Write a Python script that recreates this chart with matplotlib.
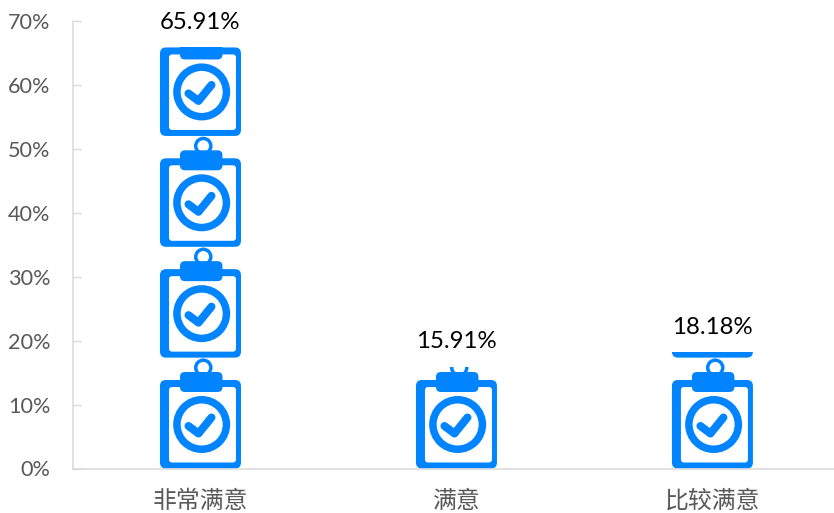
#!/usr/bin/env python3
import matplotlib
matplotlib.use('Agg')
import matplotlib.pyplot as plt
from matplotlib.patches import Circle, FancyBboxPatch, Rectangle
from matplotlib.transforms import Affine2D, ScaledTranslation

plt.rcParams['font.family'] = ['Lato', 'Noto Sans CJK SC', 'DejaVu Sans']

categories = ['非常满意', '满意', '比较满意']
values = [65.91, 15.91, 18.18]
value_labels = ['65.91%', '15.91%', '18.18%']
y_ticks = [0, 10, 20, 30, 40, 50, 60, 70]
y_tick_labels = ['0%', '10%', '20%', '30%', '40%', '50%', '60%', '70%']

BLUE = '#0084ff'
GRID = '#d9d9d9'
ICON_UNIT = 17.34   # one clipboard stands for this many percent
PX = 0.72           # points per pixel at dpi 100


def rounded(x0, y0, w, h, r, color):
    return FancyBboxPatch((x0 + r, y0 + r), w - 2 * r, h - 2 * r,
                          boxstyle='round,pad=%g,rounding_size=%g' % (r, r),
                          fc=color, ec='none')


def draw_icon(ax, i, k, clip):
    # icon shapes are in pixels, relative to the bar centre and the icon bottom
    trans = Affine2D() + ScaledTranslation(i, k * ICON_UNIT, ax.transData)
    parts = [
        Circle((2.8, 100.8), 9.3, fc=BLUE, ec='none'),
        Circle((2.8, 100.8), 5.8, fc='white', ec='none'),
        rounded(-40.5, 0, 81, 88.5, 6, BLUE),
        rounded(-31.5, 6, 67, 75.5, 3, 'white'),
        rounded(-20.5, 76.5, 42.5, 20, 5, BLUE),
        Circle((1.2, 44), 28.5, fc=BLUE, ec='none'),
        Circle((1.2, 44), 21, fc='white', ec='none'),
    ]
    for p in parts:
        p.set_transform(trans)
        ax.add_patch(p)
        p.set_clip_path(clip)
    line, = ax.plot([-12, -2, 11], [42.5, 35, 51], color=BLUE, lw=8 * PX,
                    solid_capstyle='round', solid_joinstyle='round',
                    transform=trans, scalex=False, scaley=False)
    line.set_clip_path(clip)


fig = plt.figure(figsize=(8.34, 5.13), dpi=100)
ax = fig.add_axes([72.5 / 834, 44.5 / 513, 761 / 834, 447.5 / 513])
ax.set_xlim(-0.5, 2.473)
ax.set_ylim(0, 70)

for i, v in enumerate(values):
    clip = Rectangle((i - 0.5, 0), 1, v, transform=ax.transData)
    k = 0
    while k * ICON_UNIT < v:
        draw_icon(ax, i, k, clip)
        k += 1
    ax.annotate(value_labels[i], (i, v), xytext=(0, 25 * PX),
                textcoords='offset points', ha='center', va='center',
                fontsize=17.3, color='black')

for s in ['top', 'right']:
    ax.spines[s].set_visible(False)
for s in ['left', 'bottom']:
    ax.spines[s].set_color(GRID)
    ax.spines[s].set_linewidth(1.1)

ax.set_xticks(range(len(categories)))
ax.set_xticklabels(categories, fontsize=17.2, color='#595959')
ax.set_yticks(y_ticks)
ax.set_yticklabels(y_tick_labels, fontsize=15.6, color='#595959')
ax.tick_params(axis='x', length=0, pad=15)
ax.tick_params(axis='y', direction='in', length=8 * PX, width=1, color=GRID, pad=16)

fig.savefig('out.png', dpi=100)
